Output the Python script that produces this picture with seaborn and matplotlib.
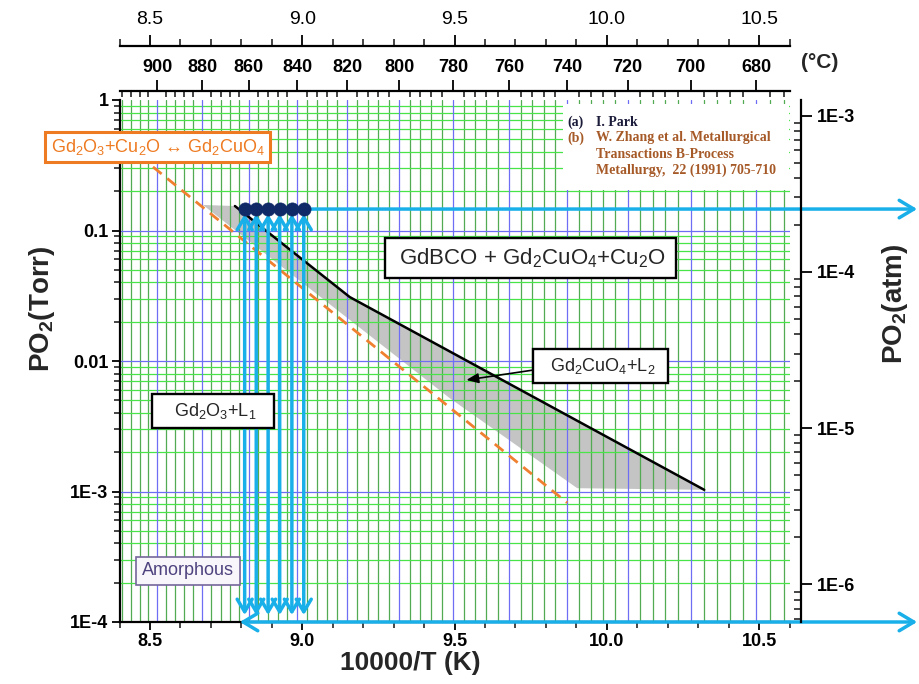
import numpy as np
import pandas as pd
import matplotlib
matplotlib.use("Agg")
import matplotlib.pyplot as plt
import matplotlib.transforms as mtransforms
import seaborn as sns
from matplotlib import font_manager
from matplotlib.patches import Rectangle
from matplotlib.ticker import FixedLocator, FixedFormatter, LogLocator, NullFormatter, MultipleLocator

sns.set_theme(style="white")


def has_font(name):
    try:
        font_manager.findfont(font_manager.FontProperties(family=name), fallback_to_default=False)
        return True
    except Exception:
        return False


SANS = "Liberation Sans"
NARROW = "Liberation Sans Narrow" if has_font("Liberation Sans Narrow") else SANS
SERIF = "Liberation Serif"

plt.rcParams.update({
    "font.family": [SANS, "DejaVu Sans"],
    "mathtext.fontset": "custom",
    "mathtext.rm": SANS,
    "mathtext.it": SANS + ":italic",
    "mathtext.bf": SANS + ":bold",
    "mathtext.default": "regular",
    "axes.unicode_minus": False,
})

# ---------------- data ----------------
inv_t_ticks = [8.5, 9.0, 9.5, 10.0, 10.5]
inv_t_labels = ["8.5", "9.0", "9.5", "10.0", "10.5"]
celsius_major = [900, 880, 860, 840, 820, 800, 780, 760, 740, 720, 700, 680]
celsius_minor = list(range(672, 917, 4))

torr_ticks = [1, 0.1, 0.01, 1e-3, 1e-4]
torr_labels = ["1", "0.1", "0.01", "1E-3", "1E-4"]
atm_ticks = [1e-3, 1e-4, 1e-5, 1e-6]
atm_labels = ["1E-3", "1E-4", "1E-5", "1E-6"]

# Gd2O3 + Cu2O <-> Gd2CuO4 equilibrium
eq_x = [8.51, 9.87]
eq_p = [0.307, 8.2e-4]

# upper boundary of the Gd2CuO4 + L2 field
upper_x = [8.779, 9.156, 10.320]
upper_p = [0.154, 0.0309, 1.03e-3]

# Gd2CuO4 + L2 field outline
band_x = [8.674, 8.779, 9.156, 10.320, 9.903, 9.484]
band_p = [0.157, 0.154, 0.0309, 1.03e-3, 1.06e-3, 5.2e-3]

# processing conditions
run_x = [8.811, 8.849, 8.888, 8.926, 8.966, 9.005]
run_p = [0.146, 0.146, 0.146, 0.146, 0.146, 0.146]
run_arrow_top = 0.134
run_arrow_bottom = 1.13e-4
scan_start_x = 8.795

X_LIM = (8.4, 10.6)
TORR_LIM = (1e-4, 1.0)
ATM_LIM = (10 ** -6.24, 10 ** -2.9)

LIGHT_BLUE = "#19afe9"
NAVY = "#0f2a66"
ORANGE = "#ee7b22"
GREEN_V = "#52ab52"
GREEN_H = "#48e448"
BLUE_G = "#6d6df5"


def c_to_inv_t(c):
    return 10000.0 / (np.asarray(c, dtype=float) + 273.15)


# ---------------- figure ----------------
fig = plt.figure(figsize=(9.19, 6.84), dpi=100)
ax = fig.add_axes([119.5 / 919, 62 / 684, 670 / 919, 522 / 684])
ax.set_xscale("linear")
ax.set_yscale("log")
ax.set_xlim(*X_LIM)
ax.set_ylim(*TORR_LIM)

# grid: temperature lines vertically, pressure lines horizontally
for xv in c_to_inv_t([c for c in celsius_minor if c not in celsius_major]):
    ax.axvline(xv, color=GREEN_V, lw=0.9, zorder=1.5)
for xv in c_to_inv_t(celsius_major):
    ax.axvline(xv, color=BLUE_G, lw=0.9, zorder=1.6)
for d in range(-4, 0):
    for m in range(2, 10):
        ax.axhline(m * 10.0 ** d, color=GREEN_H, lw=0.9, zorder=1.5)
for d in range(-3, 0):
    ax.axhline(10.0 ** d, color=BLUE_G, lw=0.9, zorder=1.6)

# shaded liquid field
ax.fill(band_x, band_p, color="#c4c4c4", lw=0, zorder=1)

eq_df = pd.DataFrame({"x": eq_x, "p": eq_p})
up_df = pd.DataFrame({"x": upper_x, "p": upper_p})
run_df = pd.DataFrame({"x": run_x, "p": run_p})

sns.lineplot(data=eq_df, x="x", y="p", ax=ax, color="#f08030", lw=2.0,
             linestyle=(0, (4, 2.6)), sort=False, estimator=None, zorder=3)
sns.lineplot(data=up_df, x="x", y="p", ax=ax, color="black", lw=1.8,
             sort=False, estimator=None, zorder=3)

# quench arrows
for xv in run_x:
    ax.annotate("", xy=(xv, run_arrow_bottom), xytext=(xv, run_arrow_top),
                arrowprops=dict(arrowstyle="<->,head_length=0.75,head_width=0.45",
                                color=LIGHT_BLUE, lw=2.5, mutation_scale=12,
                                shrinkA=0, shrinkB=0), zorder=4)

fig_x_data_y = mtransforms.blended_transform_factory(fig.transFigure, ax.transData)
ax.annotate("", xy=(0.998, run_p[-1]), xycoords=fig_x_data_y,
            xytext=(run_x[-1], run_p[-1]), textcoords="data",
            arrowprops=dict(arrowstyle="->,head_length=0.75,head_width=0.45",
                            color=LIGHT_BLUE, lw=2.5, mutation_scale=14,
                            shrinkA=0, shrinkB=0),
            annotation_clip=False, zorder=4)
ax.annotate("", xy=(0.998, TORR_LIM[0]), xycoords=fig_x_data_y,
            xytext=(scan_start_x, TORR_LIM[0]), textcoords="data",
            arrowprops=dict(arrowstyle="<->,head_length=0.75,head_width=0.45",
                            color=LIGHT_BLUE, lw=2.5, mutation_scale=14,
                            shrinkA=0, shrinkB=0),
            annotation_clip=False, zorder=8)

sns.scatterplot(data=run_df, x="x", y="p", ax=ax, s=90, color=NAVY,
                edgecolor=NAVY, linewidth=0.5, zorder=6, legend=False)

# phase field labels
box = dict(boxstyle="square,pad=0.38", fc="white", ec="black", lw=1.7)
ax.text(8.526, 0.436, "Gd$_2$O$_3$+Cu$_2$O \u2194 Gd$_2$CuO$_4$", color=ORANGE,
        fontsize=13, ha="center", va="center", zorder=7, clip_on=False,
        bbox=dict(boxstyle="square,pad=0.3", fc="white", ec=ORANGE, lw=2.2))
ax.text(9.749, 0.0615, " GdBCO + Gd$_2$CuO$_4$+Cu$_2$O ", fontsize=16,
        ha="center", va="center", zorder=7, bbox=box)
ax.text(9.979, 9.2e-3, "  Gd$_2$CuO$_4$+L$_2$  ", fontsize=13,
        ha="center", va="center", zorder=7, bbox=box)
ax.text(8.707, 4.14e-3, "   Gd$_2$O$_3$+L$_1$   ", fontsize=13,
        ha="center", va="center", zorder=7, bbox=box)
ax.text(8.625, 2.46e-4, "Amorphous", fontsize=13, color="#4f437f",
        ha="center", va="center", zorder=7,
        bbox=dict(boxstyle="square,pad=0.32", fc="#f8f6fb", ec="#75679a", lw=1.2))
ax.annotate("", xy=(9.539, 7.15e-3), xytext=(9.755, 8.5e-3),
            arrowprops=dict(arrowstyle="-|>,head_length=0.6,head_width=0.25",
                            color="black", lw=1.2, mutation_scale=12,
                            shrinkA=0, shrinkB=0), zorder=7)

# main axes frame
for side in ("top", "right"):
    ax.spines[side].set_visible(False)
for side in ("left", "bottom"):
    ax.spines[side].set_linewidth(1.6)
    ax.spines[side].set_color("black")
ax.xaxis.set_major_locator(FixedLocator(inv_t_ticks))
ax.xaxis.set_major_formatter(FixedFormatter(inv_t_labels))
ax.xaxis.set_minor_locator(MultipleLocator(0.1))
ax.yaxis.set_major_locator(FixedLocator(torr_ticks))
ax.yaxis.set_major_formatter(FixedFormatter(torr_labels))
ax.yaxis.set_minor_locator(LogLocator(base=10, subs=np.arange(2, 10)))
ax.yaxis.set_minor_formatter(NullFormatter())
ax.tick_params(axis="both", which="major", direction="out", length=6, width=1.3,
               labelsize=13, colors="black", pad=2, left=True, bottom=True)
ax.tick_params(axis="both", which="minor", direction="out", length=4, width=1.2,
               left=True, bottom=True)
for lbl in ax.get_xticklabels() + ax.get_yticklabels():
    lbl.set_fontweight("bold")
ax.set_xlabel("10000/T (K)", fontsize=19, fontweight="bold", family=[NARROW, "DejaVu Sans"])
ax.xaxis.set_label_coords(0.434, -0.056)
ax.set_ylabel("PO$_2$(Torr)", fontsize=20, fontweight="bold", family=[NARROW, "DejaVu Sans"])
ax.yaxis.set_label_coords(-0.093, 0.6)

# right axis in atm
ax_r = ax.twinx()
ax_r.set_yscale("log")
ax_r.set_ylim(*ATM_LIM)
for side in ("left", "top", "bottom"):
    ax_r.spines[side].set_visible(False)
ax_r.spines["right"].set_position(("outward", 8.6))
ax_r.spines["right"].set_linewidth(1.6)
ax_r.spines["right"].set_color("black")
ax_r.yaxis.set_major_locator(FixedLocator(atm_ticks))
ax_r.yaxis.set_major_formatter(FixedFormatter(atm_labels))
ax_r.yaxis.set_minor_locator(LogLocator(base=10, subs=np.arange(2, 10)))
ax_r.yaxis.set_minor_formatter(NullFormatter())
ax_r.tick_params(axis="y", which="major", direction="out", length=8, width=1.3,
                 labelsize=13, colors="black", right=True, pad=3)
ax_r.tick_params(axis="y", which="minor", direction="in", length=5, width=1.2, right=True)
for lbl in ax_r.get_yticklabels():
    lbl.set_fontweight("bold")
ax_r.set_ylabel("PO$_2$(atm)", fontsize=20, fontweight="bold", family=[NARROW, "DejaVu Sans"])
ax_r.yaxis.set_label_coords(1.135, 0.61)

# Celsius axis
ax_c = ax.twiny()
ax_c.set_xlim(*X_LIM)
for side in ("left", "right", "bottom"):
    ax_c.spines[side].set_visible(False)
ax_c.spines["top"].set_position(("outward", 6.5))
ax_c.spines["top"].set_linewidth(1.6)
ax_c.spines["top"].set_color("black")
ax_c.xaxis.set_major_locator(FixedLocator(c_to_inv_t(celsius_major)))
ax_c.xaxis.set_major_formatter(FixedFormatter([str(c) for c in celsius_major]))
ax_c.xaxis.set_minor_locator(FixedLocator(c_to_inv_t([c for c in celsius_minor if c not in celsius_major])))
ax_c.tick_params(axis="x", which="major", direction="out", length=8, width=1.3,
                 labelsize=13, colors="black", top=True, pad=3)
ax_c.tick_params(axis="x", which="minor", direction="in", length=4, width=1.2, top=True)
for lbl in ax_c.get_xticklabels():
    lbl.set_fontweight("bold")
    lbl.set_family([NARROW, "DejaVu Sans"])
    lbl.set_fontsize(14 if NARROW != SANS else 13)
fig.text(820 / 919, 1 - 62 / 684, "(\u00b0C)", fontsize=15, fontweight="bold",
         ha="center", va="center")

# reciprocal temperature axis on top
ax_t = ax.twiny()
ax_t.set_xlim(*X_LIM)
for side in ("left", "right", "bottom"):
    ax_t.spines[side].set_visible(False)
ax_t.spines["top"].set_position(("outward", 39))
ax_t.spines["top"].set_linewidth(1.6)
ax_t.spines["top"].set_color("black")
ax_t.xaxis.set_major_locator(FixedLocator(inv_t_ticks))
ax_t.xaxis.set_major_formatter(FixedFormatter(inv_t_labels))
ax_t.xaxis.set_minor_locator(MultipleLocator(0.1))
ax_t.tick_params(axis="x", which="major", direction="out", length=8, width=1.3,
                 labelsize=14, colors="black", top=True, pad=5)
ax_t.tick_params(axis="x", which="minor", direction="out", length=5, width=1.2, top=True)
for lbl in ax_t.get_xticklabels():
    lbl.set_family([NARROW, "DejaVu Sans"])

# reference list
ax.add_patch(Rectangle((563 / 919, 1 - 190 / 684), (789 - 563) / 919, 86 / 684,
                       transform=fig.transFigure, fc="white", ec="none",
                       zorder=7.5, clip_on=False))
ref_rows = [
    ("(a)", "I. Park", "#1b1b3a", 122),
    ("(b)", "W. Zhang et al. Metallurgical", "#a65a28", 138),
    ("", "Transactions B-Process", "#a65a28", 154),
    ("", "Metallurgy,  22 (1991) 705-710", "#a65a28", 170),
]
for tag, txt, col, ypx in ref_rows:
    if tag:
        ax.text(567 / 919, 1 - ypx / 684, tag, transform=fig.transFigure, color=col,
                family=SERIF, fontweight="bold", fontsize=10, va="center", ha="left",
                zorder=8, clip_on=False)
    ax.text(596 / 919, 1 - ypx / 684, txt, transform=fig.transFigure, color=col,
            family=SERIF, fontweight="bold", fontsize=10, va="center", ha="left",
            zorder=8, clip_on=False)

fig.savefig("out.png", dpi=100)
